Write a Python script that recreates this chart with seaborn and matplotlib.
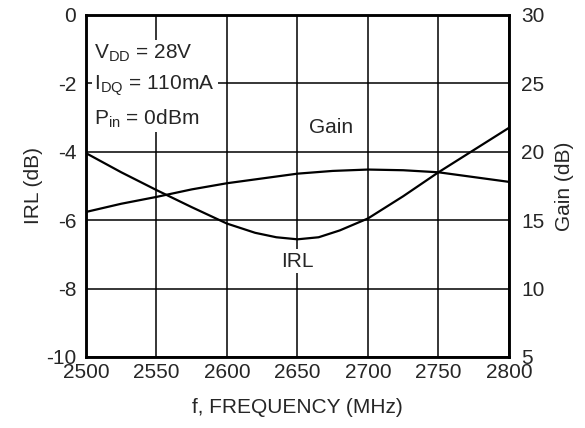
import numpy as np
import pandas as pd
import seaborn as sns
import matplotlib.pyplot as plt

# data
freq = [2500, 2525, 2550, 2575, 2600, 2620, 2635, 2650, 2665, 2680, 2700, 2725, 2750, 2775, 2800]
irl = [-4.04, -4.6, -5.12, -5.62, -6.1, -6.37, -6.5, -6.56, -6.5, -6.3, -5.95, -5.3, -4.6, -3.95, -3.3]
gain_freq = [2500, 2525, 2550, 2575, 2600, 2625, 2650, 2675, 2700, 2725, 2750, 2775, 2800]
gain = [15.6, 16.2, 16.7, 17.25, 17.7, 18.05, 18.4, 18.6, 18.7, 18.65, 18.5, 18.15, 17.8]

df_irl = pd.DataFrame({'f': freq, 'irl': irl})
df_gain = pd.DataFrame({'f': gain_freq, 'gain': gain})

sns.set_style('white')
plt.rcParams['font.family'] = ['Liberation Sans', 'DejaVu Sans']
plt.rcParams['mathtext.fontset'] = 'custom'
plt.rcParams['mathtext.rm'] = 'Liberation Sans'
plt.rcParams['axes.unicode_minus'] = False

fig = plt.figure(figsize=(5.85, 4.28), dpi=100)
ax = fig.add_axes([0.147, 0.166, 0.723, 0.799])
ax2 = ax.twinx()

sns.lineplot(data=df_irl, x='f', y='irl', ax=ax, color='black', linewidth=1.6)
sns.lineplot(data=df_gain, x='f', y='gain', ax=ax2, color='black', linewidth=1.6)

ax.set_xlim(2500, 2800)
ax.set_ylim(-10, 0)
ax2.set_ylim(5, 30)
ax.set_xticks(range(2500, 2801, 50))
ax.set_yticks(range(-10, 1, 2))
ax2.set_yticks(range(5, 31, 5))
ax.grid(True, color='black', linewidth=1.1)
ax.set_axisbelow(True)

fs = 15
ax.tick_params(axis='both', labelsize=fs, length=0, pad=4)
ax.tick_params(axis='y', pad=7)
ax2.tick_params(axis='y', labelsize=fs, length=0, pad=9)

ax.set_xlabel('f, FREQUENCY (MHz)', fontsize=fs, labelpad=12)
ax.set_ylabel('IRL (dB)', fontsize=fs, labelpad=2)
ax2.set_ylabel('Gain (dB)', fontsize=fs, labelpad=7)

for a in (ax, ax2):
    for s in a.spines.values():
        s.set_color('black')
        s.set_linewidth(1.8)

ax.set_zorder(ax2.get_zorder() + 1)
ax.patch.set_visible(False)

bbox = dict(facecolor='white', edgecolor='none', pad=2)
cond = '\n'.join([r'V$_{\mathregular{DD}}$ = 28V',
                  r'I$_{\mathregular{DQ}}$ = 110mA',
                  r'P$_{\mathregular{in}}$ = 0dBm'])
ax.text(2506, -0.8, cond, fontsize=fs, va='top', ha='left', linespacing=1.55, bbox=bbox)
ax.text(2674, -3.3, 'Gain', fontsize=fs, va='center', ha='center')
ax.text(2650, -7.2, 'IRL', fontsize=fs, va='center', ha='center', bbox=bbox)

fig.savefig('out.png', dpi=100)
